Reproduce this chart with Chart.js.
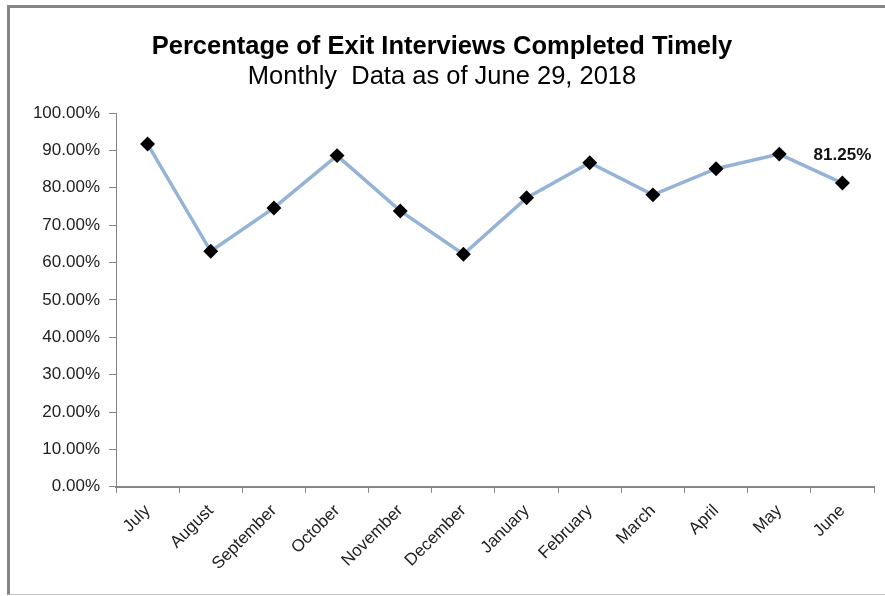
<!DOCTYPE html>
<html>
<head>
<meta charset="utf-8">
<script src="https://cdn.jsdelivr.net/npm/chart.js@4.4.0/dist/chart.umd.min.js"></script>
<style>
  html, body { margin: 0; padding: 0; background: #fff; }
  body { width: 885px; height: 596px; overflow: hidden; position: relative; }
  #frame {
    position: absolute; left: 7px; top: 5px; width: 878px; height: 590px;
    border-top: 3px solid #858585; border-left: 3px solid #858585;
    border-bottom: 1px solid #c4c4c4; box-sizing: border-box;
  }
  #wrap { position: absolute; left: 0; top: 0; width: 875px; height: 586px; }
</style>
</head>
<body>
<div id="frame"><div id="wrap"><canvas id="exitChart"></canvas></div></div>
<script>
const months = ['July', 'August', 'September', 'October', 'November', 'December',
                'January', 'February', 'March', 'April', 'May', 'June'];
const pctTimely = [91.7, 63.0, 74.6, 88.6, 73.8, 62.2, 77.3, 86.7, 78.1, 85.1, 89.0, 81.25];
const yTicks = [0, 10, 20, 30, 40, 50, 60, 70, 80, 90, 100];

const FONT = '"Liberation Sans", Arial, sans-serif';

// only the last point gets a value label, like the original
const lastLabel = {
    id: 'lastLabel',
    afterDatasetsDraw(chart) {
        const meta = chart.getDatasetMeta(0);
        const i = pctTimely.length - 1;
        const pt = meta.data[i];
        const ctx = chart.ctx;
        ctx.save();
        ctx.font = 'bold 17px ' + FONT;
        ctx.fillStyle = '#111';
        ctx.textAlign = 'center';
        ctx.textBaseline = 'middle';
        ctx.fillText(pctTimely[i].toFixed(2) + '%', pt.x, pt.y - 28);
        ctx.restore();
    }
};

new Chart(document.getElementById('exitChart'), {
    type: 'line',
    data: {
        labels: months,
        datasets: [{
            data: pctTimely,
            borderColor: '#95b3d7',
            borderWidth: 3.5,
            pointStyle: 'rectRot',
            pointRadius: 5,
            pointHoverRadius: 5,
            pointBackgroundColor: '#000',
            pointBorderColor: '#000',
            tension: 0
        }]
    },
    options: {
        responsive: true,
        maintainAspectRatio: false,
        animation: false,
        layout: { padding: { left: 0, right: 11, top: 0, bottom: 12 } },
        plugins: {
            legend: { display: false },
            tooltip: { enabled: false },
            title: {
                display: true,
                text: 'Percentage of Exit Interviews Completed Timely',
                color: '#000',
                font: { family: FONT, size: 25.5, weight: 'bold', lineHeight: 1 },
                padding: { top: 26, bottom: 5 }
            },
            subtitle: {
                display: true,
                text: 'Monthly  Data as of June 29, 2018',
                color: '#000',
                font: { family: FONT, size: 25.5, lineHeight: 1 },
                padding: { top: 0, bottom: 23 }
            }
        },
        scales: {
            x: {
                offset: true,
                grid: {
                    offset: true,
                    drawOnChartArea: false,
                    drawTicks: true,
                    tickLength: 6,
                    color: '#868686'
                },
                border: { color: '#868686', width: 2 },
                ticks: {
                    color: '#222',
                    font: { family: FONT, size: 17 },
                    minRotation: 45,
                    maxRotation: 45,
                    padding: 8,
                    autoSkip: false
                }
            },
            y: {
                min: 0,
                max: 100,
                afterFit(scale) { scale.width = 106; },
                afterBuildTicks(scale) { scale.ticks = yTicks.map(v => ({ value: v })); },
                grid: {
                    drawOnChartArea: false,
                    drawTicks: true,
                    tickLength: 7,
                    color: '#868686'
                },
                border: { color: '#868686', width: 1 },
                ticks: {
                    color: '#222',
                    font: { family: FONT, size: 17 },
                    padding: 9,
                    callback: v => v.toFixed(2) + '%'
                }
            }
        }
    },
    plugins: [lastLabel]
});
</script>
</body>
</html>
